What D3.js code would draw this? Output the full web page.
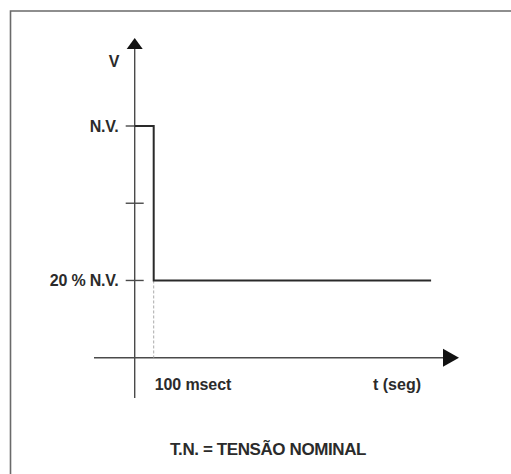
<!DOCTYPE html>
<html>
<head>
<meta charset="utf-8">
<script src="https://cdn.jsdelivr.net/npm/d3@7"></script>
<style>
  html, body { margin: 0; padding: 0; background: #fff; }
  svg { display: block; }
  text { font-family: "Liberation Sans", Arial, sans-serif; font-weight: bold; fill: #2b2b2b; }
</style>
</head>
<body>
<svg id="chart" width="511" height="474"></svg>
<script>
// Voltage levels (fraction of nominal voltage) and their axis labels
const levelValues = [1.0, 0.6, 0.2];
const levelLabels = ["N.V.", "", "20 % N.V."];

// Voltage-dip profile: time in ms, voltage as fraction of N.V.
const profileTime = [0, 100, 100, 1560];
const profileVolt = [1.0, 1.0, 0.2, 0.2];

// Time annotations
const timeMarks = [100];
const timeLabels = ["100 msect"];

const axisLabelX = "t (seg)";
const axisLabelY = "V";
const footnote = "T.N. = TENSÃO NOMINAL";

const svg = d3.select("#chart");
const W = 511, H = 474;

// Frame around the figure (open to the right and bottom)
svg.append("path")
  .attr("d", `M10.5,${H} V11 H${W}`)
  .attr("fill", "none")
  .attr("stroke", "#6a6a6a")
  .attr("stroke-width", 1.6);

const x = d3.scaleLinear().domain([0, 100]).range([134.7, 153.7]);
const y = d3.scaleLinear().domain([-0.2, 1.0]).range([357.7, 126]);

const axisColor = "#4a4a4a";
const x0 = x(0), y0 = y(-0.2);

// Vertical axis with arrow
svg.append("line")
  .attr("x1", x0).attr("x2", x0)
  .attr("y1", 398).attr("y2", 46)
  .attr("stroke", axisColor).attr("stroke-width", 1.4);
svg.append("path")
  .attr("d", `M${x0},38 L${x0 + 8},49 L${x0 - 8},49 Z`)
  .attr("fill", "#111");

// Horizontal axis with arrow
svg.append("line")
  .attr("x1", 94).attr("x2", 448)
  .attr("y1", y0).attr("y2", y0)
  .attr("stroke", axisColor).attr("stroke-width", 1.4);
svg.append("path")
  .attr("d", `M459,${y0} L443,${y0 - 9} L443,${y0 + 9} Z`)
  .attr("fill", "#111");

// Level ticks on the vertical axis
svg.selectAll("line.tick")
  .data(levelValues)
  .join("line")
  .attr("class", "tick")
  .attr("x1", x0 - 9).attr("x2", x0 + 9)
  .attr("y1", d => y(d)).attr("y2", d => y(d))
  .attr("stroke", axisColor).attr("stroke-width", 1.4);

svg.selectAll("text.level")
  .data(levelValues)
  .join("text")
  .attr("class", "level")
  .attr("x", 118.5)
  .attr("y", d => y(d))
  .attr("dy", "0.36em")
  .attr("text-anchor", "end")
  .attr("font-size", 16)
  .attr("letter-spacing", -0.2)
  .text((d, i) => levelLabels[i]);

// Dashed guide from the step down to the time axis
svg.selectAll("line.guide")
  .data(timeMarks)
  .join("line")
  .attr("class", "guide")
  .attr("x1", d => x(d)).attr("x2", d => x(d))
  .attr("y1", y(0.2)).attr("y2", y0)
  .attr("stroke", "#aaa").attr("stroke-width", 1)
  .attr("stroke-dasharray", "3,2");

// Voltage profile
const line = d3.line()
  .x((d, i) => x(profileTime[i]))
  .y((d, i) => y(profileVolt[i]));
svg.append("path")
  .datum(profileTime)
  .attr("d", line)
  .attr("fill", "none")
  .attr("stroke", "#2a2a2a")
  .attr("stroke-width", 2);

// Time labels
svg.selectAll("text.tmark")
  .data(timeMarks)
  .join("text")
  .attr("class", "tmark")
  .attr("x", d => x(d) + 1)
  .attr("y", 390)
  .attr("font-size", 16)
  .attr("letter-spacing", -0.1)
  .text((d, i) => timeLabels[i]);

svg.append("text")
  .attr("x", 373).attr("y", 390)
  .attr("font-size", 16)
  .text(axisLabelX);

svg.append("text")
  .attr("x", 114).attr("y", 67)
  .attr("text-anchor", "middle")
  .attr("font-size", 16)
  .text(axisLabelY);

svg.append("text")
  .attr("x", 268).attr("y", 455)
  .attr("text-anchor", "middle")
  .attr("font-size", 17)
  .attr("letter-spacing", -0.4)
  .text(footnote);
</script>
</body>
</html>
